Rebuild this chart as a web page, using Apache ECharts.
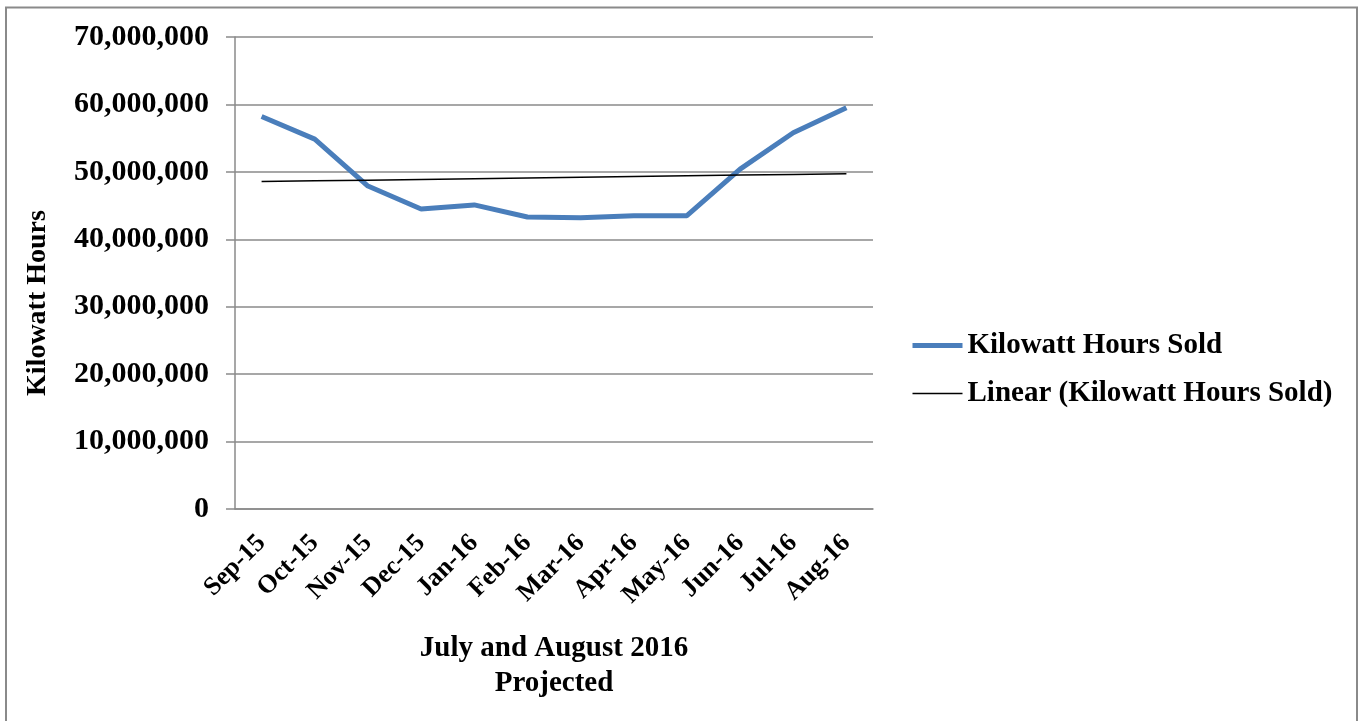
<!DOCTYPE html>
<html>
<head>
<meta charset="utf-8">
<title>Kilowatt Hours Sold</title>
<script src="https://cdn.jsdelivr.net/npm/echarts@6/dist/echarts.min.js"></script>
<style>
  html, body { margin: 0; padding: 0; background: #fff; }
  #chart { width: 1360px; height: 721px; }
</style>
</head>
<body>
<div id="chart"></div>
<script>
// Monthly kilowatt hours sold (Jul/Aug 2016 are projections)
const months = ['Sep-15', 'Oct-15', 'Nov-15', 'Dec-15', 'Jan-16', 'Feb-16',
                'Mar-16', 'Apr-16', 'May-16', 'Jun-16', 'Jul-16', 'Aug-16'];
const kwhSold = [58200000, 54850000, 47900000, 44500000, 45100000, 43300000,
                 43200000, 43500000, 43500000, 50400000, 55800000, 59500000];
const yTicks = { min: 0, max: 70000000, interval: 10000000 };
const seriesNames = ['Kilowatt Hours Sold', 'Linear (Kilowatt Hours Sold)'];
const yTitle = 'Kilowatt Hours';
const xTitle = 'July and August 2016\nProjected';

// Least-squares linear trend over the month index
function linearTrend(values) {
  const n = values.length;
  const xm = (n - 1) / 2;
  const ym = values.reduce((a, b) => a + b, 0) / n;
  let sxy = 0, sxx = 0;
  values.forEach((v, i) => { sxy += (i - xm) * (v - ym); sxx += (i - xm) * (i - xm); });
  const slope = sxy / sxx;
  return values.map((_, i) => ym + slope * (i - xm));
}
const trend = linearTrend(kwhSold);

const FONT = "'Liberation Serif', 'Times New Roman', serif";
const chart = echarts.init(document.getElementById('chart'), null, { renderer: 'canvas' });

chart.setOption({
  animation: false,
  backgroundColor: '#ffffff',
  textStyle: { fontFamily: FONT, fontWeight: 'bold', color: '#000' },
  graphic: [
    {
      type: 'rect',
      shape: { x: 6, y: 7.5, width: 1351, height: 730 },
      style: { fill: 'none', stroke: '#8a8a8a', lineWidth: 2 },
      silent: true
    },
    {
      type: 'text',
      x: 38,
      y: 303,
      rotation: Math.PI / 2,
      style: {
        text: yTitle,
        fontFamily: FONT, fontWeight: 'bold', fontSize: 28, fill: '#000',
        align: 'center', verticalAlign: 'middle'
      },
      silent: true
    }
  ],
  grid: { left: 235, right: 487, top: 37, bottom: 212, containLabel: false },
  legend: {
    orient: 'vertical',
    left: 905,
    top: 326,
    itemWidth: 50,
    itemHeight: 14,
    itemGap: 19,
    data: seriesNames,
    itemStyle: { opacity: 0 },
    lineStyle: { width: 'inherit' },
    textStyle: { fontFamily: FONT, fontWeight: 'bold', fontSize: 29, color: '#000' }
  },
  xAxis: {
    type: 'category',
    data: months,
    boundaryGap: true,
    axisLine: { lineStyle: { color: '#8a8a8a', width: 1.5 } },
    axisTick: { show: false },
    axisLabel: {
      rotate: 45,
      margin: 30,
      interval: 0,
      fontFamily: FONT,
      fontWeight: 'bold',
      fontSize: 26,
      color: '#000'
    },
    name: xTitle,
    nameLocation: 'middle',
    nameGap: 122,
    nameTextStyle: { fontFamily: FONT, fontWeight: 'bold', fontSize: 29, color: '#000', lineHeight: 35 }
  },
  yAxis: {
    type: 'value',
    min: yTicks.min,
    max: yTicks.max,
    interval: yTicks.interval,
    axisLine: { show: true, lineStyle: { color: '#8a8a8a', width: 1.5 } },
    axisTick: { show: true, length: 9, lineStyle: { color: '#8a8a8a', width: 1.5 } },
    splitLine: { lineStyle: { color: '#8a8a8a', width: 1.5 } },
    axisLabel: {
      margin: 26,
      fontFamily: FONT,
      fontWeight: 'bold',
      fontSize: 30,
      color: '#000',
      formatter: v => v.toLocaleString('en-US')
    }
  },
  series: [
    {
      name: seriesNames[0],
      type: 'line',
      data: kwhSold,
      symbol: 'none',
      lineStyle: { color: '#4a7ebb', width: 5 },
      itemStyle: { color: '#4a7ebb' },
      z: 3
    },
    {
      name: seriesNames[1],
      type: 'line',
      data: trend,
      symbol: 'none',
      lineStyle: { color: '#000', width: 1.5 },
      itemStyle: { color: '#000' },
      z: 4
    }
  ]
});
</script>
</body>
</html>
